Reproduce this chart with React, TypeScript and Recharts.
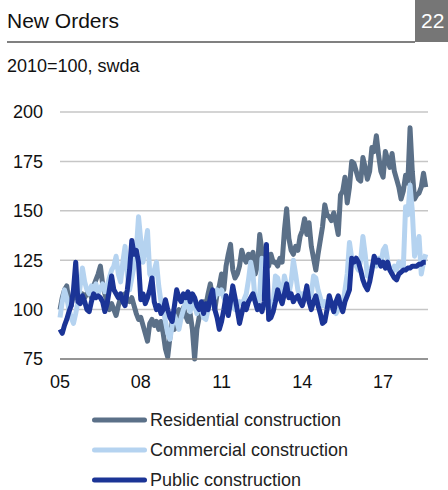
import { LineChart, Line, XAxis, YAxis, CartesianGrid, Legend } from 'recharts'

// monthly index values, Jan 2005 .. Aug 2018 (2010=100, swda)
const residential = [
  100, 106, 110, 112, 104, 102, 108, 106, 110, 104, 108, 106,
  108, 110, 106, 112, 115, 118, 122, 113, 108, 104, 100, 103,
  100, 97, 102, 106, 104, 108, 105, 104, 106, 102, 98, 95,
  96, 92, 88, 84, 93, 95, 92, 94, 90, 94, 88, 80,
  76, 86, 94, 90, 97, 100, 96, 101, 97, 94, 98, 90,
  75, 90, 96, 99, 104, 102, 108, 113, 106, 100, 108, 112,
  118, 110, 122, 128, 133, 120, 116, 118, 122, 130, 126, 124,
  128, 126, 129, 118, 122, 138, 130, 124, 126, 122, 128, 124,
  124, 122, 126, 124, 140, 151, 136, 130, 128, 132, 130, 137,
  140, 146, 138, 144, 132, 126, 120, 128, 135, 142, 153, 148,
  147, 145, 149, 144, 138, 158, 160, 167, 154, 162, 175, 174,
  170, 166, 165, 177, 172, 166, 170, 182, 180, 188, 178, 170,
  167, 180, 176, 172, 179, 170, 166, 162, 156, 160, 168, 164,
  192, 170, 156, 158, 159, 162, 169, 162
]

const commercial = [
  96, 104, 110, 106, 100, 96, 93, 98, 104, 112, 121, 114,
  110, 108, 112, 110, 113, 108, 111, 113, 109, 112, 116, 120,
  122, 127, 118, 114, 124, 132, 118, 110, 116, 122, 130, 147,
  135, 124, 132, 140, 118, 116, 120, 124, 112, 104, 100, 94,
  88, 85, 92, 97, 94, 90, 96, 100, 104, 102, 99, 104,
  102, 98, 103, 100, 96, 95, 100, 104, 108, 106, 110, 108,
  110, 106, 104, 100, 104, 102, 100, 102, 104, 103, 105, 108,
  115, 124, 118, 104, 100, 108, 126, 110, 102, 100, 104, 103,
  117, 116, 110, 106, 117, 112, 108, 114, 125, 118, 110, 106,
  108, 105, 110, 106, 108, 117, 116, 110, 106, 102, 104, 100,
  102, 104, 100, 98, 100, 100, 103, 110, 118, 134, 126, 124,
  122, 120, 125, 137, 128, 117, 118, 122, 124, 122, 126, 123,
  130, 132, 125, 120, 118, 122, 120, 124, 122, 121, 152, 148,
  163, 150, 127, 132, 137, 118, 124, 128
]

const publicOrders = [
  90, 88, 92, 95, 99, 102, 110, 124, 104, 103, 107, 104,
  100, 99, 104, 108, 106, 107, 106, 104, 99, 103, 110, 117,
  110, 108, 106, 108, 104, 102, 110, 120, 135, 128, 130, 124,
  105, 108, 103, 106, 110, 116, 104, 100, 102, 98, 100, 105,
  100, 96, 94, 102, 110, 106, 104, 108, 106, 109, 104, 108,
  106, 102, 100, 104, 98, 103, 100, 106, 110, 100, 96, 90,
  94, 100, 107, 97, 104, 112, 106, 100, 93, 98, 103, 100,
  104, 106, 108, 104, 100, 102, 99, 104, 133, 95, 96, 99,
  104, 110, 106, 103, 108, 113, 106, 108, 104, 106, 107, 104,
  102, 106, 112, 104, 100, 104, 107, 102, 98, 93, 94, 100,
  107, 103, 99, 104, 107, 102, 99, 104, 107, 110, 126, 124,
  126, 124, 120, 115, 112, 110, 114, 120, 127, 124, 125, 122,
  124, 121, 124, 120, 118, 116, 115, 118, 119, 120, 120, 121,
  121, 122, 122, 122, 123, 123, 124, 124
]

const startYear = 2005
const yTicks = [75, 100, 125, 150, 175, 200]
const xTickLabels = ['05', '08', '11', '14', '17']
const xTicks = xTickLabels.map(l => (Number(l) + 2000 - startYear) * 12)

const series = [
  { key: 'residential', name: 'Residential construction', color: '#5b7088' },
  { key: 'commercial', name: 'Commercial construction', color: '#b5d3f0' },
  { key: 'publicOrders', name: 'Public construction', color: '#1b3496' }
]

const chartData = residential.map((r, i) => ({
  m: i,
  residential: r,
  commercial: commercial[i],
  publicOrders: publicOrders[i]
}))

const font = '"Liberation Sans", Arial, sans-serif'

const LegendContent = () => (
  <div>
    {series.map(s => (
      <div key={s.key} style={{ display: 'flex', alignItems: 'center', height: 30 }}>
        <svg width={58} height={8} style={{ display: 'block' }}>
          <line x1={4.5} y1={4} x2={54.5} y2={4} stroke={s.color} strokeWidth={5} strokeLinecap="round" />
        </svg>
        <span style={{ marginLeft: 2, fontSize: 18, lineHeight: '20px', color: '#222', fontFamily: font, whiteSpace: 'nowrap' }}>
          {s.name}
        </span>
      </div>
    ))}
  </div>
)

export default function App() {
  return (
    <div style={{ position: 'absolute', left: 0, top: 0, width: 448, height: 490, background: '#fff', overflow: 'hidden', fontFamily: font }}>
      <div style={{ position: 'absolute', left: 7, top: 10, fontSize: 21, lineHeight: '21px', color: '#111' }}>
        New Orders
      </div>
      <div style={{ position: 'absolute', left: 7, top: 41, width: 408, height: 2, background: '#808080' }} />
      <div style={{ position: 'absolute', left: 415, top: 0, width: 33, height: 42, background: '#767676' }}>
        <div style={{ position: 'absolute', left: 6, top: 10, fontSize: 21, lineHeight: '21px', color: '#fff' }}>22</div>
      </div>
      <div style={{ position: 'absolute', left: 7, top: 57, fontSize: 18, lineHeight: '18px', color: '#111' }}>
        2010=100, swda
      </div>

      <div style={{ position: 'absolute', left: 0, top: 0 }}>
        <LineChart width={448} height={490} data={chartData} margin={{ top: 112, right: 20, bottom: 101, left: 0 }}>
          <CartesianGrid vertical={false} stroke="#c6c6c6" strokeWidth={1.5} />
          <XAxis
            dataKey="m"
            type="number"
            domain={[0, 164]}
            ticks={xTicks}
            interval={0}
            tickFormatter={(v: number) => xTickLabels[xTicks.indexOf(v)]}
            tickLine={false}
            axisLine={{ stroke: '#808080', strokeWidth: 1.5 }}
            tickSize={6}
            tickMargin={10}
            height={30}
            tick={{ fontSize: 18, fill: '#111', fontFamily: font }}
          />
          <YAxis
            domain={[75, 200]}
            ticks={yTicks}
            interval={0}
            tickLine={false}
            axisLine={false}
            tickSize={6}
            tickMargin={11}
            width={60}
            tick={{ fontSize: 18, fill: '#111', fontFamily: font }}
          />
          <Legend
            layout="vertical"
            align="center"
            verticalAlign="middle"
            content={<LegendContent />}
            wrapperStyle={{ top: 405, left: 90, width: 300, height: 90 }}
          />
          {series.map(s => (
            <Line
              key={s.key}
              type="linear"
              dataKey={s.key}
              name={s.name}
              stroke={s.color}
              strokeWidth={5}
              strokeLinejoin="round"
              dot={false}
              isAnimationActive={false}
            />
          ))}
        </LineChart>
      </div>
    </div>
  )
}
